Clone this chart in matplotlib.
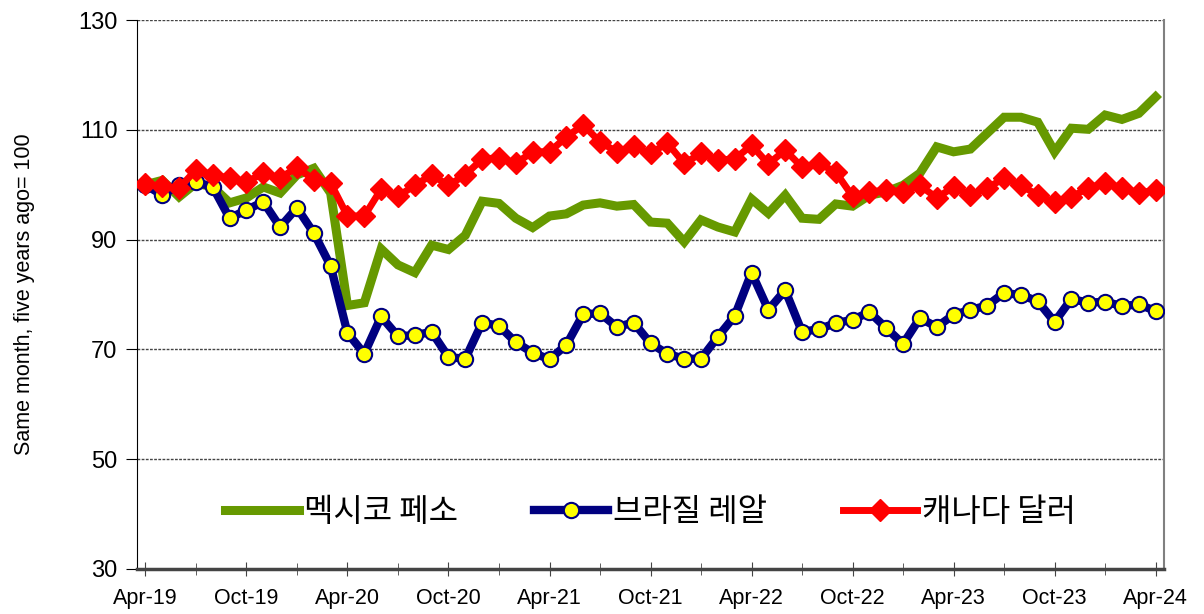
import matplotlib
matplotlib.use("Agg")
import matplotlib.pyplot as plt
from matplotlib.ticker import MultipleLocator

plt.rcParams['font.family'] = ['Liberation Sans', 'Noto Sans CJK KR', 'DejaVu Sans']

# month index 0 = Apr-19 ... 60 = Apr-24
tick_labels = ["Apr-19", "Oct-19", "Apr-20", "Oct-20", "Apr-21", "Oct-21",
               "Apr-22", "Oct-22", "Apr-23", "Oct-23", "Apr-24"]

mexico = [100, 100.8, 97.8, 100.3, 99.6, 96.7, 97.6, 99.6, 98.5, 101.8,
          103.0, 98.5, 78.0, 78.5, 88.3, 85.4, 84.0, 89.0, 88.2, 90.8,
          97.0, 96.6, 93.9, 92.2, 94.3, 94.7, 96.3, 96.7, 96.1, 96.4,
          93.2, 93.0, 89.6, 93.6, 92.3, 91.4, 97.4, 94.8, 98.1, 93.9,
          93.7, 96.5, 96.1, 98.1, 98.7, 99.9, 102.1, 106.9, 106.0, 106.5,
          109.4, 112.3, 112.3, 111.4, 106.0, 110.3, 110.1, 112.7, 111.9, 113.0,
          116.0]

brazil = [100, 98.1, 100.0, 100.5, 99.6, 93.9, 95.4, 96.9, 92.3, 95.8,
          91.2, 85.2, 73.0, 69.2, 76.0, 72.4, 72.6, 73.2, 68.6, 68.3,
          74.9, 74.3, 71.3, 69.4, 68.2, 70.8, 76.4, 76.6, 74.1, 74.9,
          71.1, 69.2, 68.3, 68.3, 72.3, 76.1, 84.0, 77.2, 80.8, 73.2,
          73.7, 74.8, 75.4, 76.8, 73.9, 71.0, 75.7, 74.1, 76.3, 77.2,
          78.0, 80.3, 79.9, 78.8, 75.0, 79.2, 78.5, 78.7, 77.9, 78.2,
          77.0]

canada = [100.1, 99.7, 99.4, 102.7, 101.8, 101.2, 100.5, 102.1, 101.2, 103.2,
          100.9, 100.3, 94.3, 94.3, 99.2, 97.9, 99.9, 101.8, 99.9, 101.8,
          104.7, 104.9, 103.9, 106.0, 106.0, 108.7, 110.9, 107.8, 106.0, 107.0,
          105.7, 107.6, 103.9, 105.7, 104.5, 104.7, 107.2, 103.8, 106.3, 103.2,
          103.9, 102.3, 97.9, 98.7, 99.0, 98.7, 99.9, 97.6, 99.6, 98.2,
          99.4, 101.2, 99.9, 98.1, 96.8, 97.8, 99.4, 100.3, 99.4, 98.5,
          99.0]

x = list(range(len(mexico)))

fig = plt.figure(figsize=(12.04, 6.14), dpi=100)
ax = fig.add_axes([0.1138, 0.0733, 0.853, 0.894])

ax.plot(x, mexico, color="#669900", lw=6.5, solid_joinstyle="miter",
        label="멕시코 페소", zorder=3)
ax.plot(x, brazil, color="#000080", lw=6, marker="o", ms=11,
        mfc="#ffff00", mec="#000080", mew=1.5, label="브라질 레알", zorder=4)
ax.plot(x, canada, color="#ff0000", lw=5, marker="D", ms=11,
        mfc="#ff0000", mec="#ff0000", label="캐나다 달러", zorder=5)

ax.set_xlim(-0.5, 60.5)
ax.set_ylim(30, 130)
ax.set_yticks([30, 50, 70, 90, 110, 130])
ax.set_xticks(range(0, 61, 6))
ax.set_xticklabels(tick_labels)
ax.xaxis.set_minor_locator(MultipleLocator(3))

for yv in [50, 70, 90, 110, 130]:
    ax.axhline(yv, color="#444444", lw=1, ls=(0, (2, 1)), zorder=1)

ax.spines['top'].set_visible(False)
ax.spines['left'].set_color("black")
ax.spines['right'].set_color("#808080")
ax.spines['right'].set_linewidth(1.5)
ax.spines['bottom'].set_color("#444444")
ax.spines['bottom'].set_linewidth(2.5)

ax.tick_params(axis='y', labelsize=17, length=8, direction='out', pad=6)
ax.tick_params(axis='x', which='major', labelsize=15.5, length=10,
               direction='inout', pad=9, color="#444444")
ax.tick_params(axis='x', which='minor', length=8, direction='inout',
               color="#444444")

ax.set_ylabel("Same month, five years ago= 100", fontsize=15.5, labelpad=31)

ax.legend(loc="center", bbox_to_anchor=(0.5, 0.104), ncol=3, frameon=False,
          prop={'family': ['Noto Sans CJK KR', 'DejaVu Sans'], 'size': 23},
          handlelength=2.3, columnspacing=2.4, handletextpad=0.15)

fig.savefig("out.png", dpi=100)
